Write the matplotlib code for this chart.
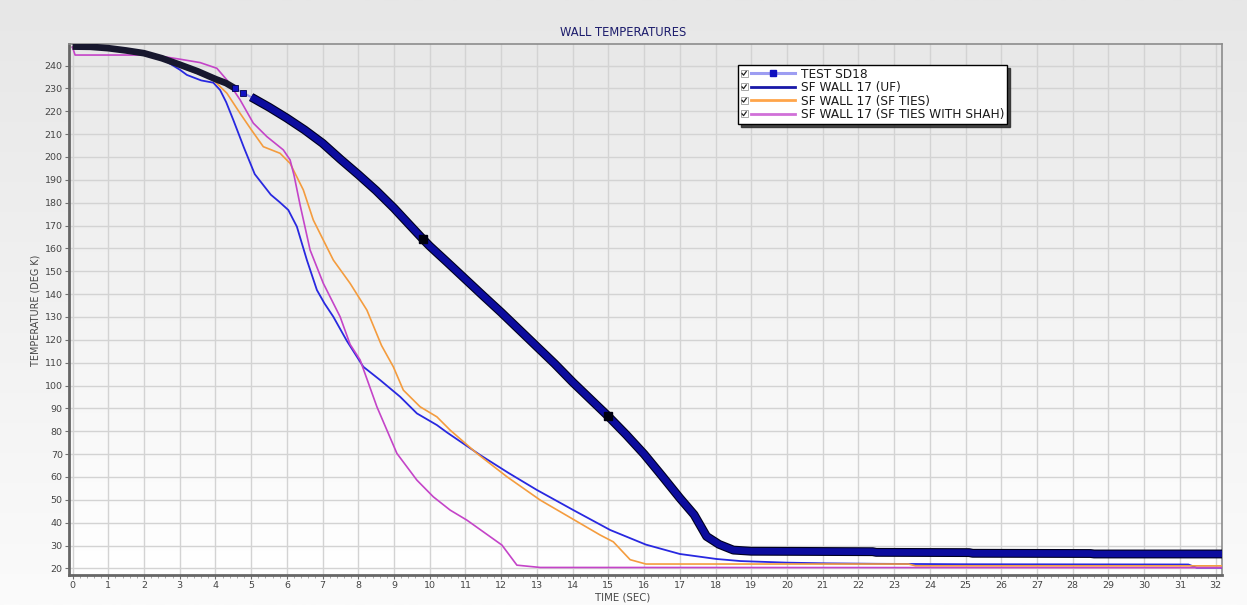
import numpy as np
import matplotlib
matplotlib.use("Agg")
import matplotlib.pyplot as plt
import matplotlib.patheffects as pe
from matplotlib.colors import LinearSegmentedColormap
from matplotlib.lines import Line2D
from matplotlib.patches import Rectangle
from matplotlib.legend_handler import HandlerLine2D
from matplotlib.ticker import MultipleLocator

# ---- data -------------------------------------------------------------
# Measured wall temperature, test SD18
sd18_time = [0, 0.5, 1, 1.5, 2, 2.5, 3, 3.5, 4, 4.3, 4.55, 4.78, 5.0, 5.5, 6,
             6.5, 7, 7.5, 8, 8.5, 9, 9.5, 9.8, 10, 10.5, 11, 11.5, 12, 12.5,
             13, 13.5, 14, 14.5, 15.0, 15.5, 16, 16.5, 17, 17.4, 17.75, 18.1,
             18.5, 19, 22.4, 22.5, 25.1, 25.2, 28.5, 28.6, 32.2]
sd18_temp = [248.3, 248.2, 247.6, 246.6, 245.4, 243.2, 240.4, 237.5, 234.1,
             232.3, 230.0, 228.1, 226.2, 221.8, 217.0, 211.8, 206.0, 199.0,
             192.3, 185.3, 177.6, 169.2, 164.2, 161.0, 153.8, 146.5, 139.2,
             132.0, 124.5, 117.0, 109.5, 101.5, 94.0, 86.5, 78.5, 70.0, 60.5,
             50.8, 43.5, 34.0, 30.5, 28.0, 27.5, 27.3, 27.0, 26.9, 26.6, 26.5,
             26.3, 26.3]

# SF WALL 17 (UF)
uf_time = [0, 1, 2, 2.5, 3.0, 3.2, 3.6, 3.94, 4.13, 4.3, 4.5, 4.8, 5.1, 5.55,
           5.8, 6.04, 6.28, 6.56, 6.84, 7.05, 7.3, 7.68, 8.14, 8.61, 9.17,
           9.64, 10.2, 10.48, 11.41, 12.2, 13.0, 14.02, 15.05, 16.05, 17.0,
           18.03, 18.7, 20.0, 21.1, 22.5, 25, 28, 31.24, 31.47, 32.2]
uf_temp = [248, 247.4, 245.3, 243, 238.2, 235.9, 233.5, 232.5, 229.3, 224,
           216.2, 204, 192.5, 183.5, 180.2, 176.8, 169.5, 154.9, 141.8, 136,
           130.1, 119.5, 108.2, 102.4, 95.1, 87.8, 82.7, 79.5, 69.6, 61.8,
           54.3, 45.5, 36.8, 30.4, 26.3, 24.1, 23.2, 22.5, 22.2, 22.0, 21.8,
           21.75, 21.7, 20.3, 20.3]

# SF WALL 17 (SF TIES)
ties_time = [0, 1, 2, 2.5, 3.0, 3.5, 3.94, 4.32, 4.69, 5.0, 5.34, 5.81, 6.09,
             6.46, 6.74, 7.3, 7.77, 8.24, 8.65, 8.98, 9.26, 9.73, 10.2, 10.57,
             11.32, 12.16, 13.09, 14.21, 14.77, 15.14, 15.61, 16.05, 18, 20,
             23.4, 23.6, 32.2]
ties_temp = [248, 247.5, 245.3, 243, 239.4, 236.5, 233.7, 227.9, 219.1, 212,
             204.5, 201.6, 197.2, 185.6, 172.4, 154.9, 144.7, 133, 117.5,
             108.2, 98, 90.7, 86.3, 80.5, 70.3, 60.1, 49.9, 39.7, 34.6, 31.6,
             23.8, 21.9, 21.9, 21.9, 21.9, 21.1, 21.1]

# SF WALL 17 (SF TIES WITH SHAH)
shah_time = [0, 0.07, 1, 2, 2.5, 3.0, 3.57, 4.04, 4.32, 4.69, 5.06, 5.44, 5.9,
             6.09, 6.2, 6.37, 6.65, 7.02, 7.49, 7.77, 8.05, 8.52, 9.08, 9.64,
             10.1, 10.57, 11.04, 12.02, 12.44, 13.09, 32.2]
shah_temp = [248, 244.6, 244.6, 244.6, 244, 242.8, 241.3, 238.8, 233.7, 225,
             214.8, 208.9, 203.1, 198.7, 192, 179, 159.3, 144.7, 130.1, 118,
             111.2, 90.7, 70.3, 58.6, 51.3, 45.5, 41.1, 30.2, 21.4, 20.4, 20.3]

series_labels = ["TEST SD18", "SF WALL 17 (UF)", "SF WALL 17 (SF TIES)",
                 "SF WALL 17 (SF TIES WITH SHAH)"]
x_ticks = list(range(0, 33))
y_ticks = list(range(20, 241, 10))

X_LIM = (-0.1, 32.18)
Y_LIM = (17.1, 249.3)


# Legend entry: a ticked check box followed by the line sample
class CheckedHandler(HandlerLine2D):
    def create_artists(self, legend, orig_handle, xdescent, ydescent, width,
                       height, fontsize, trans):
        box = 0.58 * fontsize
        shift = box + 0.3 * fontsize
        arts = super().create_artists(legend, orig_handle, xdescent - shift,
                                      ydescent, width - shift, height,
                                      fontsize, trans)
        x0 = -xdescent
        y0 = -ydescent + (height - box) / 2
        frame = Rectangle((x0, y0), box, box, facecolor="white",
                          edgecolor="#9a9a9a", lw=0.6, transform=trans)
        tick = Line2D([x0 + 0.2 * box, x0 + 0.42 * box, x0 + 0.8 * box],
                      [y0 + 0.5 * box, y0 + 0.25 * box, y0 + 0.78 * box],
                      color="#202020", lw=0.9, transform=trans)
        return [frame, tick] + list(arts)


fig = plt.figure(figsize=(12.47, 6.05), dpi=100)

# soft vertical gradient behind everything
bg = fig.add_axes([0, 0, 1, 1], zorder=-10)
grad = np.linspace(0, 1, 256).reshape(-1, 1)
bg.imshow(grad, aspect="auto", origin="upper", extent=[0, 1, 0, 1],
          cmap=LinearSegmentedColormap.from_list("fig_bg", ["#e7e7e7", "#fbfbfb"]))
bg.axis("off")

ax = fig.add_axes([0.05533, 0.04959, 0.92462, 0.87719])
ax.imshow(grad, aspect="auto", origin="upper",
          extent=[X_LIM[0], X_LIM[1], Y_LIM[0], Y_LIM[1]], zorder=0,
          cmap=LinearSegmentedColormap.from_list("ax_bg", ["#e8e8e8", "#ffffff"]))

# simulated curves
ax.plot(uf_time, uf_temp, color="#2828e0", lw=1.3, zorder=3)
ax.plot(ties_time, ties_temp, color="#f49c3e", lw=1.2, zorder=3)
ax.plot(shah_time, shah_temp, color="#c444c8", lw=1.2, zorder=3)

# measured data: densely sampled squares rendered as a heavy band
t = np.array(sd18_time)
T = np.array(sd18_temp)
early = t <= 4.55
gap = (t >= 4.55) & (t <= 5.0)
late = t >= 5.0
ax.plot(t[early], T[early], color="#17172e", lw=4.8, solid_capstyle="butt",
        solid_joinstyle="round", zorder=5)
ax.plot(t[gap], T[gap], color="#9a9af0", lw=1.5, zorder=5)
sparse = (t > 4.5) & (t < 4.9)
ax.plot(t[sparse], T[sparse], ls="none", marker="s", ms=5, mfc="#1212c4",
        mec="#000050", mew=0.6, zorder=6)
ax.plot(t[late], T[late], color="#0c0c9e", lw=4.8, solid_capstyle="butt",
        solid_joinstyle="round", zorder=5,
        path_effects=[pe.Stroke(linewidth=6.4, foreground="#00001e"), pe.Normal()])
dense = np.isin(t, [9.8, 15.0])
ax.plot(t[dense], T[dense], ls="none", marker="s", ms=5.2, mfc="#000010",
        mec="#000010", zorder=6)

ax.set_xlim(*X_LIM)
ax.set_ylim(*Y_LIM)
ax.set_xticks(x_ticks)
ax.set_yticks(y_ticks)
ax.xaxis.set_minor_locator(MultipleLocator(0.2))
ax.tick_params(axis="both", which="major", length=3, width=0.8,
               color="#707070", labelsize=6.8, labelcolor="#454545", pad=1.5)
ax.tick_params(axis="x", which="minor", length=2, width=0.6, color="#9a9a9a")
ax.grid(True, which="major", color="#d3d3d3", lw=1.0)

for side in ("left", "bottom"):
    ax.spines[side].set_color("#666666")
    ax.spines[side].set_linewidth(2.0)
for side in ("top", "right"):
    ax.spines[side].set_color("#8c8c8c")
    ax.spines[side].set_linewidth(1.2)

# legend
h_sd18 = Line2D([], [], color="#9d9df2", lw=2.2, marker="s", ms=4.5,
                mfc="#1010c0", mec="#1010c0")
h_uf = Line2D([], [], color="#1818a8", lw=2.0)
h_ties = Line2D([], [], color="#ffa54a", lw=2.0)
h_shah = Line2D([], [], color="#d070d8", lw=2.0)
leg = ax.legend([h_sd18, h_uf, h_ties, h_shah], series_labels,
                loc="upper left", bbox_to_anchor=(0.5802, 0.961),
                borderaxespad=0, fontsize=8.7, frameon=True, fancybox=False,
                edgecolor="black", facecolor="white", framealpha=1,
                shadow={"color": "#2a2a2a", "alpha": 0.85}, borderpad=0.22,
                labelspacing=0.04, handlelength=4.5, handletextpad=0.5,
                numpoints=1, handler_map={Line2D: CheckedHandler(numpoints=1)})
leg.get_frame().set_linewidth(1.0)
leg.set_zorder(10)
for txt in leg.get_texts():
    txt.set_color("#1a1a1a")

fig.text(0.4995, 1 - 32 / 605, "WALL TEMPERATURES", ha="center", va="center",
         fontsize=8.3, color="#1c1c6c")
fig.text(0.4995, 1 - 598 / 605, "TIME (SEC)", ha="center", va="center",
         fontsize=7.3, color="#454545")
fig.text(35 / 1247, 1 - 310 / 605, "TEMPERATURE (DEG K)", ha="center",
         va="center", rotation=90, fontsize=6.9, color="#454545")

fig.savefig("out.png", dpi=100)
